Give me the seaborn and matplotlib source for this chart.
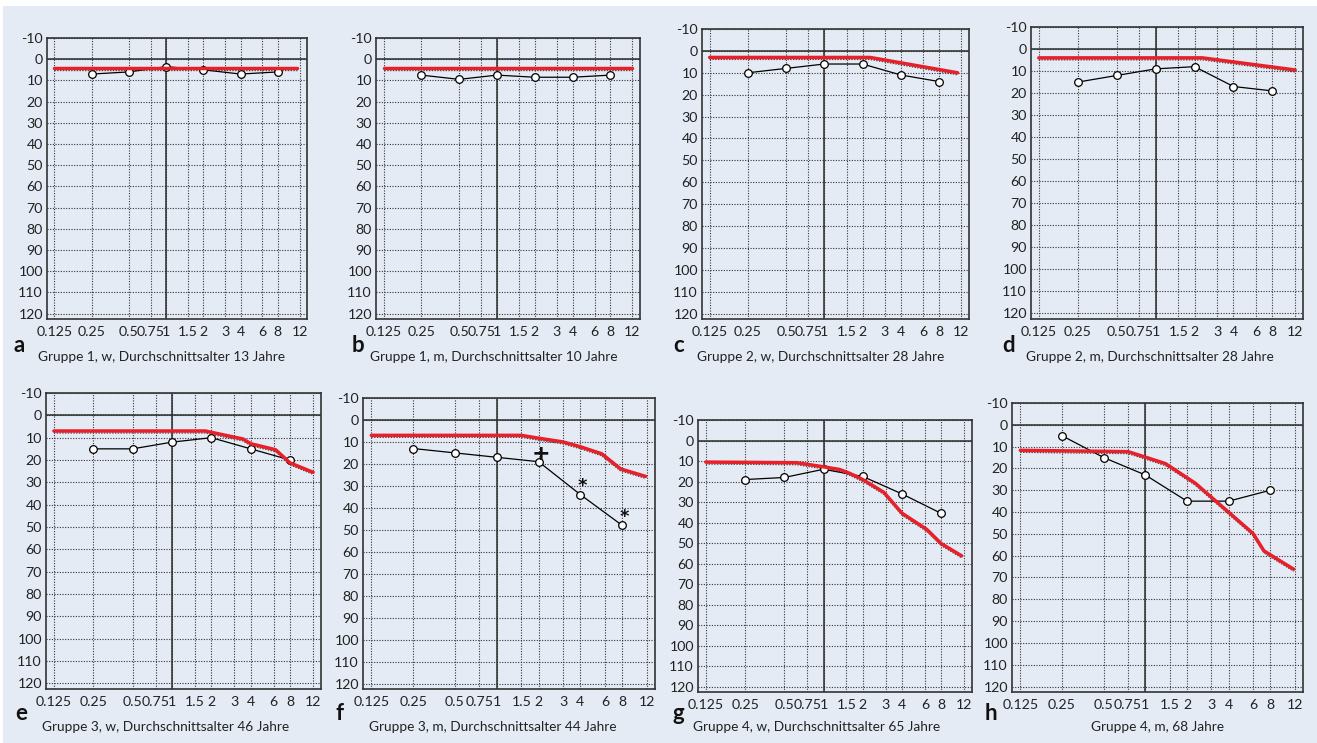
import matplotlib
matplotlib.use("Agg")
import matplotlib.pyplot as plt
import matplotlib.transforms as mtransforms
from matplotlib.patches import Rectangle
from matplotlib.ticker import NullLocator
import seaborn as sns

sns.set_theme(style="white")
plt.rcParams["font.family"] = ["Lato", "DejaVu Sans"]
plt.rcParams["axes.unicode_minus"] = False

# ---------------------------------------------------------------- data
# test frequencies (kHz) of the measured group means
freq = [0.25, 0.5, 1, 2, 4, 8]

x_ticks = [0.125, 0.25, 0.5, 0.75, 1, 1.5, 2, 3, 4, 6, 8, 12]
x_tick_labels = ["0.125", "0.25", "0.5", "0.75", "1", "1.5", "2", "3", "4", "6", "8", "12"]
y_ticks = [-10, 0, 10, 20, 30, 40, 50, 60, 70, 80, 90, 100, 110, 120]

letters = ["a", "b", "c", "d", "e", "f", "g", "h"]
captions = [
    "Gruppe 1, w, Durchschnittsalter 13 Jahre",
    "Gruppe 1, m, Durchschnittsalter 10 Jahre",
    "Gruppe 2, w, Durchschnittsalter 28 Jahre",
    "Gruppe 2, m, Durchschnittsalter 28 Jahre",
    "Gruppe 3, w, Durchschnittsalter 46 Jahre",
    "Gruppe 3, m, Durchschnittsalter 44 Jahre",
    "Gruppe 4, w, Durchschnittsalter 65 Jahre",
    "Gruppe 4, m, 68 Jahre",
]

# measured mean hearing thresholds (dB HL) at `freq`
mean_a = [7, 6, 3.5, 5, 7, 6]
mean_b = [7.5, 9.5, 7.5, 8.5, 8.5, 7.5]
mean_c = [10, 8, 6, 6, 11, 14]
mean_d = [15, 12, 9, 8, 17, 19]
mean_e = [15, 15, 12, 10, 15, 20]
mean_f = [13, 15, 17, 19, 34, 48]
mean_g = [19, 18, 14, 17.5, 26, 35.5]
mean_h = [5, 15, 23, 35, 35, 30]

# significance markers above the measured means of group 3, m
marks_f = ["", "", "", "+", "*", "*"]

# age-matched norm curves (frequency in kHz, threshold in dB HL)
norm_a_f = [0.125, 11.5]
norm_a_db = [4, 4]
norm_b_f = [0.125, 11.8]
norm_b_db = [4, 4]
norm_c_f = [0.125, 2.3, 11.2]
norm_c_db = [3, 3, 10]
norm_d_f = [0.125, 2.3, 12]
norm_d_db = [4, 4, 9.5]
norm_e_f = [0.125, 1.8, 2, 3.5, 4, 6.2, 8, 12]
norm_e_db = [7, 7, 7.6, 10.6, 12.7, 15.4, 21.3, 25.5]
norm_f_f = [0.125, 1.5, 2, 3, 4, 5.7, 7.8, 11.8]
norm_f_db = [7, 7, 8.3, 10, 12.2, 15.4, 22.3, 25.7]
norm_g_f = [0.125, 0.62, 1, 1.33, 1.59, 2, 2.9, 4, 6.2, 8, 11.5]
norm_g_db = [10.5, 10.8, 12.8, 14.1, 16, 19, 25.2, 35.4, 43.3, 50.2, 56.2]
norm_h_f = [0.125, 0.75, 1, 1.4, 2.3, 6, 7.2, 11.8]
norm_h_db = [11.7, 12.3, 14.8, 17.8, 26.8, 49.8, 57.8, 66.2]

means = [mean_a, mean_b, mean_c, mean_d, mean_e, mean_f, mean_g, mean_h]
norm_f = [norm_a_f, norm_b_f, norm_c_f, norm_d_f, norm_e_f, norm_f_f, norm_g_f, norm_h_f]
norm_db = [norm_a_db, norm_b_db, norm_c_db, norm_d_db, norm_e_db, norm_f_db, norm_g_db, norm_h_db]
marks = [None, None, None, None, None, marks_f, None, None]

# ---------------------------------------------------------------- layout
W, H = 1317, 743
# axes frame in pixels: left, top, right, bottom; then letter x, caption x
frames = [
    (47, 38, 307, 319, 13, 38),
    (376, 38, 640, 319, 352, 370),
    (702, 29, 969, 319, 673, 697),
    (1031, 27, 1303, 319, 1002, 1026),
    (46, 393, 321, 689, 15, 42),
    (363, 398, 655, 689, 335, 369),
    (698, 420, 972, 692, 672, 693),
    (1012, 403, 1303, 692, 985, None),
]
row_text_y = {0: (346, 357), 1: (714, 727)}

BG = "#e5ebf5"
RED = "#e8202a"
INK = "#2b2b2b"

fig = plt.figure(figsize=(W / 100, H / 100), dpi=100)
fig.patch.set_facecolor("white")
fig.add_artist(Rectangle((3 / W, 0), 1 - 3 / W, 1 - 6 / H, transform=fig.transFigure,
                         facecolor=BG, edgecolor="none", zorder=0))

for i in range(8):
    l, t, r, b, lx, cx = frames[i]
    ax = fig.add_axes([l / W, 1 - b / H, (r - l) / W, (b - t) / H])
    ax.set_facecolor("none")
    ax.set_xscale("log", base=2)
    ax.set_xlim(0.125 * 2 ** -0.2, 12 * 2 ** 0.2)
    ax.set_ylim(122.5, -10)
    ax.set_xticks(x_ticks)
    ax.set_xticklabels(x_tick_labels)
    ax.xaxis.set_minor_locator(NullLocator())
    ax.set_yticks(y_ticks)
    ax.tick_params(length=0, labelsize=10.2, colors="#222")
    ax.tick_params(axis="x", pad=5)
    ax.tick_params(axis="y", pad=3)
    ax.grid(True, which="major", linestyle=(0, (1, 1.4)), color="#333", linewidth=0.8)
    for sp in ax.spines.values():
        sp.set_color("#333")
        sp.set_linewidth(1.2)
    ax.axvline(1, color=INK, lw=1.1, zorder=2)
    ax.axhline(0, color=INK, lw=1.1, zorder=2)

    # dotted trace running along the lower edge of the norm curve
    shift = mtransforms.ScaledTranslation(0, -1.4 / 72, fig.dpi_scale_trans)
    ax.plot(norm_f[i], norm_db[i], linestyle=(0, (1, 1)), color="#444", lw=1.0,
            transform=ax.transData + shift, zorder=3)
    sns.lineplot(x=norm_f[i], y=norm_db[i], ax=ax, color=RED, lw=2.5, sort=False,
                 zorder=5)
    sns.lineplot(x=freq, y=means[i], ax=ax, color="black", lw=0.9, sort=False,
                 marker="o", markersize=5.5, markerfacecolor="white",
                 markeredgecolor="black", markeredgewidth=0.9, zorder=4)
    if marks[i] is not None:
        for fx, fy, m in zip(freq, means[i], marks[i]):
            if not m:
                continue
            if m == "+":
                size, dy = 16, 1
            else:
                size, dy = 13, 2.5
            ax.annotate(m, (fx, fy), xytext=(1.5, dy), textcoords="offset points",
                        ha="center", va="baseline", fontsize=size, fontweight="bold",
                        color="#111", family="DejaVu Sans", zorder=6)
    ax.set_xlabel("")
    ax.set_ylabel("")

    ly, cy = row_text_y[0 if i < 4 else 1]
    fig.text(lx / W, 1 - ly / H, letters[i], fontsize=16, fontweight="bold",
             ha="left", va="center", color="#111")
    if cx is None:
        fig.text((l + r) / 2 / W, 1 - cy / H, captions[i], fontsize=9.8,
                 ha="center", va="center", color="#222")
    else:
        fig.text(cx / W, 1 - cy / H, captions[i], fontsize=9.8,
                 ha="left", va="center", color="#222")

fig.savefig("out.png", dpi=100, facecolor=fig.get_facecolor())
